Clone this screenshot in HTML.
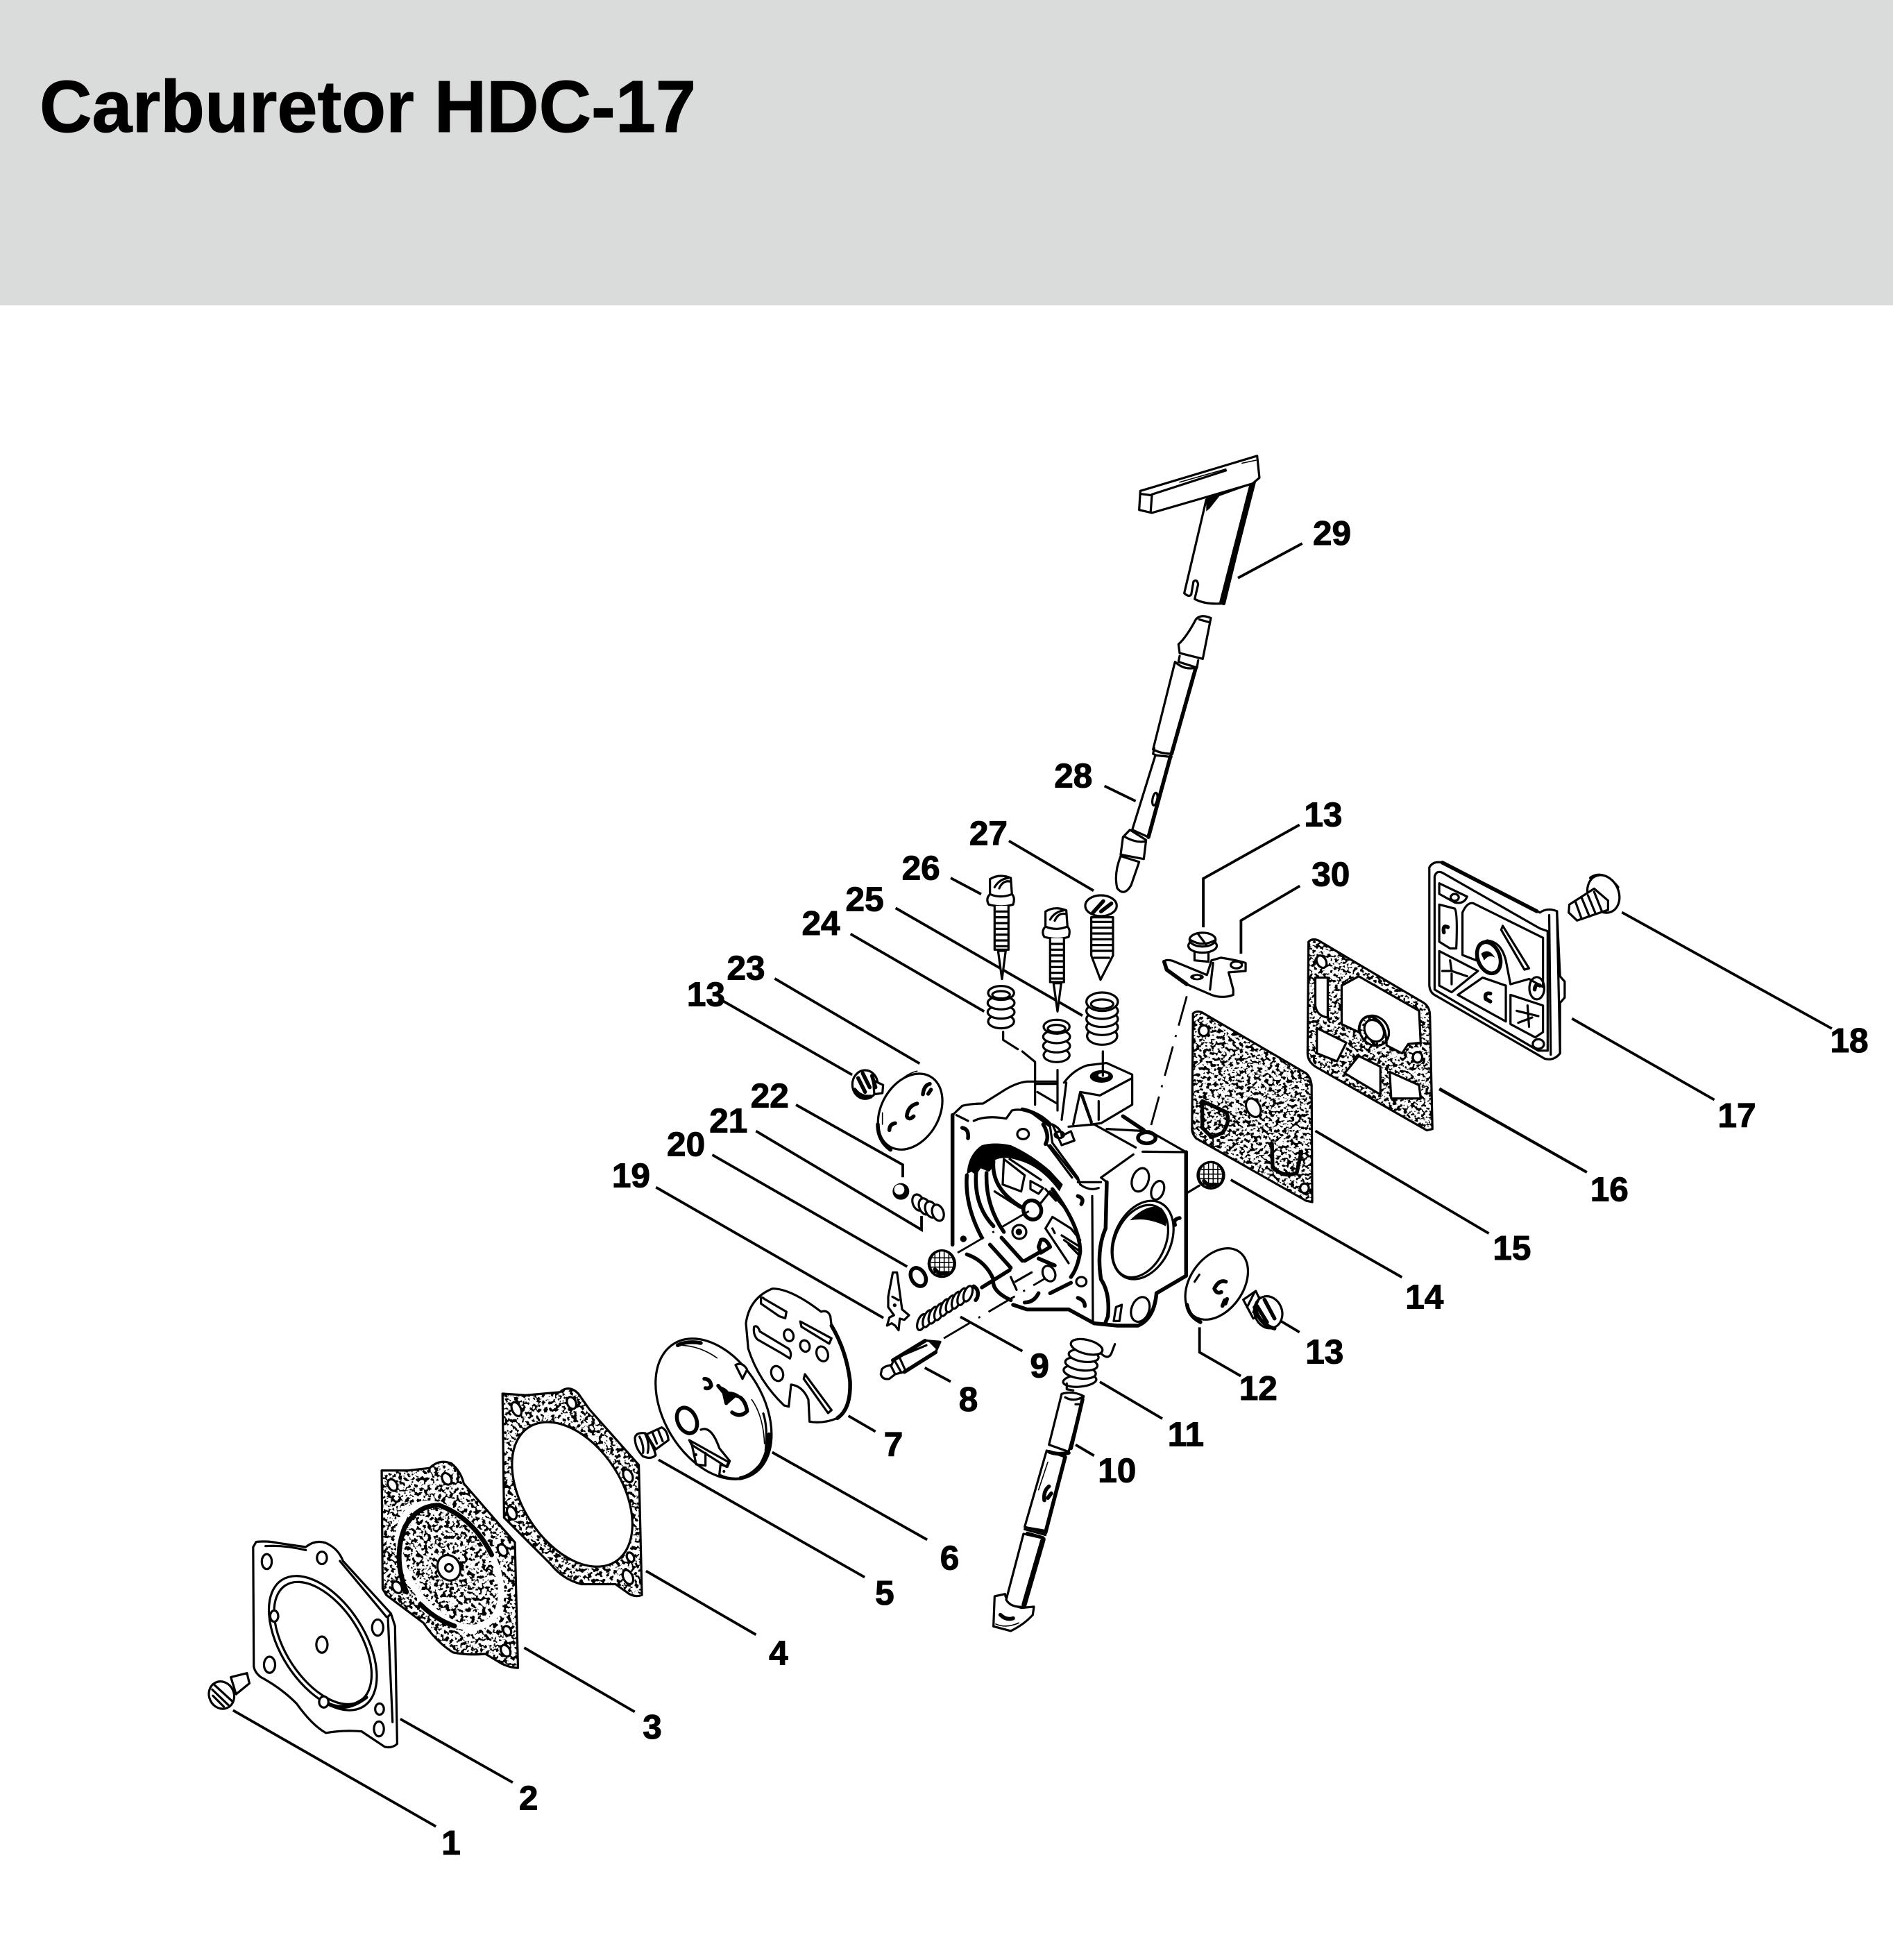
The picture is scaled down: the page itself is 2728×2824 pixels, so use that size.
<!DOCTYPE html>
<html><head><meta charset="utf-8"><title>Carburetor HDC-17</title>
<style>
html,body{margin:0;padding:0;background:#fff}
svg{display:block}
path,ellipse,line,polyline,rect,circle,polygon{vector-effect:non-scaling-stroke}
.s{fill:none;stroke:#000;stroke-width:3.2;stroke-linecap:round;stroke-linejoin:round}
.w{fill:#fff;stroke:#000;stroke-width:3.2;stroke-linejoin:round;stroke-linecap:round}
.t{fill:none;stroke:#000;stroke-width:1.6;stroke-linecap:round;stroke-linejoin:round}
.k{fill:none;stroke:#000;stroke-width:5.5;stroke-linecap:round;stroke-linejoin:round}
.b{fill:#000;stroke:none}
.l{fill:none;stroke:#000;stroke-width:3.8;stroke-linecap:butt;stroke-linejoin:miter}
.d{fill:none;stroke:#000;stroke-width:2.8;stroke-dasharray:44 14 3 14}
.n{font:bold 27.5px "Liberation Sans",sans-serif;text-anchor:middle;fill:#000;stroke:#000;stroke-width:.6}
</style></head><body>
<svg xmlns="http://www.w3.org/2000/svg" width="2728" height="2824" viewBox="0 0 2728 2824">
<defs>
<filter id="sp" x="0" y="0" width="1" height="1" color-interpolation-filters="sRGB">
<feTurbulence type="fractalNoise" baseFrequency=".085" numOctaves="2" seed="7" result="n"/>
<feColorMatrix in="n" type="matrix" values="0 0 0 0 0 0 0 0 0 0 0 0 0 0 0 16 0 0 0 -8.2" result="m"/>
<feComposite in="m" in2="SourceAlpha" operator="in"/>
</filter>
<g id="ndl">
<path class="w" d="M680,200Q720,175 770,195L775,265Q790,280 780,310Q730,325 675,310Q660,285 680,265Z"/>
<path class="s" d="M680,265Q725,285 775,265M700,235Q720,200 760,195M720,240Q735,205 765,210"/>
<path class="w" d="M700,315L700,505L760,505L760,315"/>
<path class="s" d="M703,340H757M703,365H757M703,390H757M703,415H757M703,440H757M703,465H757M703,490H757"/>
<path class="w" d="M715,510L732,632L748,510Z"/>
</g>
<g id="spr">
<ellipse class="w" cx="728" cy="815" rx="56" ry="30"/>
<ellipse class="w" cx="728" cy="775" rx="58" ry="28"/>
<ellipse class="w" cx="728" cy="735" rx="58" ry="28"/>
<ellipse class="w" cx="728" cy="692" rx="56" ry="30"/>
<ellipse class="s" cx="728" cy="700" rx="38" ry="16"/>
</g>
<g id="mesh">
<circle r="62" class="b"/>
<ellipse rx="48" ry="52" fill="#fff"/>
<path class="t" d="M-40,-25H40M-45,-5H45M-45,15H45M-35,35H35M-30,-40V40M-10,-50V50M10,-50V50M30,-40V40"/>
<path class="k" d="M-30,25L-10,45L20,40"/>
</g>
</defs>

<rect x="0" y="0" width="2728" height="440" fill="#dadcdb"/>
<text x="57" y="190" font-family="Liberation Sans, sans-serif" font-weight="bold" font-size="106" textLength="946" lengthAdjust="spacingAndGlyphs" fill="#000" stroke="#000" stroke-width="1">Carburetor HDC-17</text>

<!-- Zoom 2: parts 1-4 -->
<g transform="translate(280,1950) scale(.4464)">
<path class="l" d="M125,1152L780,1527M665,1180L1028,1385M1065,950L1422,1157"/>
<!-- screw 1 -->
<path class="w" d="M118,1045L170,1032L178,1065L135,1100Z"/>
<ellipse class="w" cx="88" cy="1103" rx="40" ry="45" transform="rotate(-25 88 1103)"/>
<path class="s" d="M58,1085L110,1135M60,1105L95,1140M65,1070L125,1125"/>
<!-- cover 2 -->
<path class="w" d="M190,625L200,608Q240,605 270,612L360,625Q390,600 425,612Q465,630 480,670L635,840L648,880L655,1260Q640,1275 615,1270L540,1220Q480,1215 425,1225Q380,1200 330,1130Q280,1080 215,1045Q195,1030 192,1010Z"/>
<path class="s" d="M635,840L625,850L640,1190M230,622Q290,618 360,635M470,670L620,850"/>
<ellipse class="s" cx="415" cy="935" rx="243" ry="135" transform="rotate(57 415 935)"/>
<ellipse class="s" cx="415" cy="935" rx="222" ry="120" transform="rotate(57 415 935)"/>
<path class="k" d="M430,1130Q490,1160 555,1110"/>
<ellipse class="w" cx="258" cy="848" rx="13" ry="18"/><ellipse class="w" cx="418" cy="1125" rx="15" ry="18"/>
<ellipse class="s" cx="234" cy="672" rx="16" ry="24"/><ellipse class="s" cx="412" cy="660" rx="16" ry="20"/>
<ellipse class="s" cx="592" cy="885" rx="18" ry="26"/><ellipse class="s" cx="243" cy="1005" rx="18" ry="26"/>
<ellipse class="s" cx="412" cy="940" rx="18" ry="26"/><ellipse class="s" cx="598" cy="1148" rx="14" ry="18"/><ellipse class="s" cx="596" cy="1212" rx="16" ry="24"/>
<!-- gasket 3 -->
<path fill="#fff" d="M605,378L690,378L760,370Q790,340 830,355Q860,380 870,420L1035,610L1045,1015Q1020,1015 990,1000L940,970Q880,975 835,965Q780,930 740,870L620,780L608,760Z"/>
<path filter="url(#sp)" d="M605,378L690,378L760,370Q790,340 830,355Q860,380 870,420L1035,610L1045,1015Q1020,1015 990,1000L940,970Q880,975 835,965Q780,930 740,870L620,780L608,760Z"/>
<path class="s" d="M605,378L690,378L760,370Q790,340 830,355Q860,380 870,420L1035,610L1045,1015Q1020,1015 990,1000L940,970Q880,975 835,965Q780,930 740,870L620,780L608,760Z"/>
<ellipse cx="825" cy="685" rx="222" ry="135" transform="rotate(57 825 685)" fill="none" stroke="#fff" stroke-width="9"/>
<path fill="none" stroke="#000" stroke-width="7" stroke-linecap="round" d="M685,770Q640,660 680,560Q720,490 790,490Q900,530 960,650M730,810Q780,860 840,880"/>
<ellipse cx="640" cy="425" rx="14" ry="20" class="w" transform="rotate(-30 640 425)"/><ellipse cx="815" cy="405" rx="14" ry="20" class="w" transform="rotate(-30 815 405)"/><ellipse cx="995" cy="635" rx="14" ry="20" class="w" transform="rotate(-30 995 635)"/><ellipse cx="655" cy="755" rx="14" ry="20" class="w" transform="rotate(-30 655 755)"/><ellipse cx="1005" cy="960" rx="14" ry="20" class="w" transform="rotate(-30 1005 960)"/><ellipse cx="1010" cy="895" rx="12" ry="16" class="w" transform="rotate(-30 1010 895)"/>
<ellipse cx="822" cy="692" rx="36" ry="42" class="w" transform="rotate(-25 822 692)"/><circle cx="822" cy="692" r="12" class="s"/>
<!-- gasket 4 -->
<path fill="#fff" d="M995,130L1070,135L1180,125Q1210,100 1240,130L1275,180L1435,360L1445,780Q1420,790 1395,770L1360,745L1250,745Q1190,730 1150,680L1000,530Z"/>
<path filter="url(#sp)" d="M995,130L1070,135L1180,125Q1210,100 1240,130L1275,180L1435,360L1445,780Q1420,790 1395,770L1360,745L1250,745Q1190,730 1150,680L1000,530Z"/>
<path class="s" d="M995,130L1070,135L1180,125Q1210,100 1240,130L1275,180L1435,360L1445,780Q1420,790 1395,770L1360,745L1250,745Q1190,730 1150,680L1000,530Z"/>
<ellipse class="w" cx="1220" cy="455" rx="258" ry="160" transform="rotate(57 1220 455)"/>
<ellipse cx="1040" cy="180" rx="14" ry="24" class="w" transform="rotate(-25 1040 180)"/><ellipse cx="1218" cy="160" rx="14" ry="20" class="w" transform="rotate(-25 1218 160)"/><ellipse cx="1400" cy="395" rx="14" ry="22" class="w" transform="rotate(-25 1400 395)"/><ellipse cx="1025" cy="515" rx="14" ry="22" class="w" transform="rotate(-25 1025 515)"/><ellipse cx="1400" cy="722" rx="15" ry="24" class="w" transform="rotate(-25 1400 722)"/><ellipse cx="1408" cy="658" rx="11" ry="16" class="w" transform="rotate(-25 1408 658)"/>
</g>

<!-- Zoom 6: 5,6,7 -->
<g transform="translate(900,1830) scale(.3333)">
<path class="l" d="M968,630L1085,698"/>
<path class="w" d="M95,710L160,680Q185,690 190,735L135,775Z"/>
<path class="w" d="M45,725Q50,700 90,705Q125,760 135,800Q115,820 80,805Q45,770 45,725Z"/>
<path class="s" d="M90,710Q110,750 100,790M120,700L140,750M145,690L165,740M65,720Q85,760 80,790"/>
<!-- 7 -->
<path class="w" d="M525,230Q540,120 640,80Q720,80 850,180Q880,170 890,200L895,240Q960,350 975,480Q980,600 920,640Q860,665 800,655L795,560Q770,500 720,495L710,590L690,585Q580,480 535,340Z"/>
<path class="k" d="M895,240Q960,350 975,480Q980,600 920,640"/>
<path class="s" d="M590,120Q595,115 605,125L700,180L695,208L670,200L590,145ZM760,222L895,295L885,318L765,245ZM560,245Q575,235 585,265L710,340Q725,360 715,382L680,360L575,300Q555,280 560,245ZM780,450L895,605L880,618L775,470Z"/>
<ellipse class="s" cx="710" cy="282" rx="20" ry="26" transform="rotate(-20 710 282)"/><ellipse class="s" cx="780" cy="328" rx="20" ry="25" transform="rotate(-20 780 328)"/><ellipse class="s" cx="855" cy="362" rx="24" ry="33" transform="rotate(-20 855 362)"/><ellipse class="s" cx="660" cy="447" rx="25" ry="33" transform="rotate(-20 660 447)"/>
<!-- 6 -->
<ellipse class="w" cx="385" cy="600" rx="330" ry="215" transform="rotate(59 385 600)"/>
<path class="k" d="M230,325Q270,305 330,315M625,710Q625,780 590,840M500,900Q550,890 590,840"/>
<path class="t" d="M250,325Q330,330 400,380M550,560Q600,630 605,750"/>
<path class="w" d="M480,410Q510,395 530,430L510,470Q490,430 480,410Z"/>
<path class="s" d="M600,620Q620,680 610,780"/>
<path class="k" d="M345,470Q370,470 375,500Q365,515 350,510M405,500L430,530L440,575"/>
<path class="b" d="M410,500Q440,510 450,525Q490,525 515,560L480,550L445,580L430,535Z"/>
<path class="k" d="M465,615Q500,640 530,610Q525,570 500,550"/>
<ellipse class="k" cx="270" cy="650" rx="40" ry="58" transform="rotate(-25 270 650)"/>
<path class="w" d="M330,690Q375,670 410,770L455,825L445,850L415,840L410,885Q450,905 500,900"/>
<path class="s" d="M280,735L450,830L440,850L290,755ZM290,750L310,840L350,845L350,790"/>
<circle class="b" cx="308" cy="798" r="7"/><circle class="b" cx="430" cy="870" r="6"/>
</g>

<!-- Zoom 1: body -->
<g transform="translate(1300,1450) scale(.3333)">
<path class="k" d="M218,470L218,1030"/>
<path class="s" d="M218,470L260,430Q300,420 350,420L430,370Q490,330 540,325L670,325"/>
<path class="s" d="M310,495Q360,470 450,485L475,450Q510,440 560,460L610,490"/>
<path class="s" d="M235,470L285,495M560,460L640,520L650,590L760,740L770,770Q810,800 850,785"/>
<path class="k" d="M520,445Q590,460 640,510M610,510Q640,560 620,595"/>
<path class="s" d="M640,600L760,750M630,600L735,740"/>
<path class="b" d="M280,725Q285,640 345,600Q400,585 470,600Q560,640 640,710L695,770L680,800Q600,690 500,665Q440,645 400,665Q395,700 375,715L340,700L320,730L300,715Z"/>
<path class="k" d="M280,730Q270,860 345,1000M320,720Q310,860 395,950M365,720Q360,860 440,975M395,670Q385,790 520,870"/>
<path class="s" d="M440,660L530,730L515,800L435,770ZM465,660L600,750M400,800L510,870M555,755L610,785L590,810L555,790Z"/>
<path class="k" d="M650,790Q770,950 770,1060Q760,1130 730,1170"/>
<path class="s" d="M620,790L665,840M600,850L640,800L710,880"/>
<ellipse class="k" cx="563" cy="880" rx="38" ry="42" transform="rotate(-25 563 880)"/>
<circle class="s" cx="507" cy="975" r="30"/><circle class="b" cx="505" cy="975" r="14"/>
<path class="s" d="M620,960L650,910L730,960L770,1010M620,960L720,1110M660,980L650,960M690,990L770,1040M700,1010L770,1060M720,1030L770,1080"/>
<path class="k" d="M600,1010Q620,1000 640,1040L600,1065L590,1040ZM590,1090L660,1120"/>
<ellipse class="s" cx="635" cy="1155" rx="26" ry="35" transform="rotate(-25 635 1155)"/>
<path class="k" d="M430,1000L520,1100M380,1030L470,1130M530,1100L600,1060M280,1072Q360,1100 395,1180Q385,1230 470,1270"/>
<path class="k" d="M345,1215L465,1140"/>
<path class="s" d="M470,1170L495,1225M490,1190L560,1150"/>
<path class="k" d="M480,1290L540,1310L720,1310L830,1370"/>
<path class="k" d="M590,1240Q570,1280 530,1280M640,1240L730,1195"/>
<path class="d" d="M240,1065L575,870M180,1435L620,1175"/>
<circle class="b" cx="265" cy="1005" r="14"/><path class="k" d="M260,525Q290,530 285,570M760,820Q790,830 775,855M760,1260Q790,1270 790,1295"/>
<ellipse class="s" cx="523" cy="552" rx="25" ry="22"/>
<ellipse class="w" cx="775" cy="1190" rx="22" ry="20"/>
<!-- right face -->
<path class="s" d="M860,740L1000,640M860,740L885,760M1040,628L1228,630"/>
<path class="k" d="M1228,630L1228,1165L1100,1240"/>
<path class="k" d="M1100,1240Q1090,1350 1020,1380L930,1380L830,1370"/>
<path class="s" d="M720,520L830,510L1010,610M885,530L1070,540L1228,630M760,760L860,760"/>
<path class="s" d="M822,820L825,1365"/>
<path class="k" d="M885,760L880,960Q840,1050 860,1180Q900,1240 890,1340L880,1365"/>
<ellipse class="w" cx="1030" cy="1015" rx="108" ry="165" transform="rotate(25 1030 1015)"/>
<ellipse class="s" cx="1040" cy="1010" rx="122" ry="178" transform="rotate(25 1040 1010)"/>
<path class="b" d="M985,925Q1060,850 1120,870Q1150,900 1140,950Q1060,910 985,925Z"/>
<ellipse class="s" cx="1030" cy="750" rx="35" ry="52" transform="rotate(20 1030 750)"/>
<ellipse class="s" cx="1105" cy="795" rx="26" ry="42" transform="rotate(20 1105 795)"/>
<ellipse class="s" cx="1030" cy="1310" rx="38" ry="55" transform="rotate(20 1030 1310)"/>
<path class="s" d="M925,1300L950,1290L940,1360L915,1360Z"/>
<path class="k" d="M1200,915Q1170,920 1180,945"/>
<ellipse class="k" cx="1058" cy="568" rx="38" ry="24"/>
<!-- top block -->
<path class="s" d="M700,330Q740,275 800,255L880,245M885,245L995,295L995,425L860,505L820,510L770,370L740,510M770,370L855,385L995,310M780,385L820,500M850,410V490M710,330L690,490"/>
<path class="k" d="M955,475L1045,535"/>
<ellipse class="b" cx="862" cy="303" rx="50" ry="27"/><ellipse cx="870" cy="298" rx="22" ry="10" fill="#fff"/>
<path class="s" d="M868,195L868,300"/>
<path class="s" d="M437,110L437,145L500,185M520,195L575,240L575,425M575,335L672,335M672,275L672,450M585,370L670,420"/>
<path class="s" d="M650,510Q690,530 690,560L730,540L745,580L690,600Z"/>
<ellipse class="s" cx="680" cy="555" rx="20" ry="14"/>
<!-- plate 12 -->
<ellipse class="w" cx="1360" cy="1200" rx="170" ry="115" transform="rotate(-55 1360 1200)"/>
<path class="k" d="M1232,1290Q1240,1340 1290,1365"/>
<path class="k" d="M1400,1190Q1370,1180 1350,1220Q1360,1245 1380,1235M1395,1270L1385,1295M1405,1265L1398,1285"/>
<path class="s" d="M1285,1160L1265,1190"/>
<use href="#mesh" transform="translate(1335,730)"/>
<path class="s" d="M1235,805L1285,775"/>
</g>

<!-- Zoom 7: 23, 22, 21, 20, screen, 19, spring 9 -->
<g transform="translate(1240,1540) scale(.3333)">
<ellipse class="w" cx="215" cy="185" rx="175" ry="125" transform="rotate(-60 215 185)"/>
<path class="k" d="M75,240Q75,310 130,350"/>
<path class="t" d="M95,190L95,240M190,35Q220,15 245,10"/>
<path class="k" d="M245,150Q205,160 200,205Q210,225 230,205M300,65Q275,70 270,110M305,90L293,108M150,235Q125,240 125,265"/>
<circle class="b" cx="175" cy="530" r="36"/><circle cx="168" cy="522" r="22" fill="#fff"/>
<ellipse class="w" cx="250" cy="578" rx="24" ry="36" transform="rotate(-20 250 578)"/>
<ellipse class="w" cx="278" cy="595" rx="24" ry="36" transform="rotate(-20 278 595)"/>
<ellipse class="w" cx="305" cy="608" rx="24" ry="36" transform="rotate(-20 305 608)"/>
<ellipse class="w" cx="335" cy="622" rx="24" ry="36" transform="rotate(-20 335 622)"/>
<ellipse class="k" cx="250" cy="900" rx="30" ry="42" transform="rotate(-30 250 900)"/>
<use href="#mesh" transform="translate(352,842)"/>
<path class="w" d="M140,880L158,880L180,1040L210,1065L190,1085L170,1080L165,1130L150,1110L135,1100L115,1110L125,1075L145,1065L120,1030L120,985Z"/>
<circle class="b" cx="148" cy="1022" r="8"/><path class="s" d="M138,985L165,1000"/>
<ellipse class="w" cx="265" cy="1095" rx="17" ry="36" transform="rotate(20 265 1095)"/>
<ellipse class="w" cx="290" cy="1080" rx="17" ry="38" transform="rotate(20 290 1080)"/>
<ellipse class="w" cx="315" cy="1065" rx="17" ry="38" transform="rotate(20 315 1065)"/>
<ellipse class="w" cx="340" cy="1050" rx="17" ry="38" transform="rotate(20 340 1050)"/>
<ellipse class="w" cx="365" cy="1032" rx="17" ry="38" transform="rotate(20 365 1032)"/>
<ellipse class="w" cx="390" cy="1016" rx="17" ry="38" transform="rotate(20 390 1016)"/>
<ellipse class="w" cx="415" cy="1000" rx="17" ry="38" transform="rotate(20 415 1000)"/>
<ellipse class="w" cx="440" cy="985" rx="17" ry="38" transform="rotate(20 440 985)"/>
<ellipse class="w" cx="465" cy="972" rx="17" ry="35" transform="rotate(20 465 972)"/>
<path class="k" d="M490,940Q515,955 505,990L498,1000"/>
</g>

<!-- Zoom 9: needle 8, leaders -->
<g transform="translate(1240,1780) scale(.3333)">
<path class="l" d="M432,352L700,500M278,572L390,632"/>
<path class="w" d="M92,580Q100,565 135,560L145,535L285,455L345,460L325,505L190,590L150,600L125,620Q95,625 88,600Z"/>
<path class="b" d="M285,450L345,458L330,495Z"/>
<path class="k" d="M190,590L325,505M140,540L280,455"/>
<path class="s" d="M130,560L150,600M150,545L175,590M170,530L195,585M165,525L285,475"/>
</g>

<!-- Zoom 8: 10,11 -->
<g transform="translate(1400,1900) scale(.3333)">
<path class="l" d="M450,545L530,592M555,273L825,432"/>
<ellipse class="w" cx="468" cy="268" rx="72" ry="26" transform="rotate(-5 468 268)"/>
<ellipse class="w" cx="468" cy="230" rx="70" ry="28" transform="rotate(8 468 230)"/>
<ellipse class="w" cx="475" cy="195" rx="70" ry="28" transform="rotate(8 475 195)"/>
<ellipse class="w" cx="485" cy="160" rx="65" ry="26" transform="rotate(8 485 160)"/>
<ellipse class="w" cx="498" cy="122" rx="70" ry="30" transform="rotate(14 498 122)"/>
<path class="s" d="M560,150Q590,180 605,150L620,110M412,280L412,305M412,305L440,310"/>
<path class="w" d="M390,325L335,545L420,575L485,335Q440,310 390,325Z"/>
<path class="s" d="M405,340Q440,360 478,340M450,370H478"/>
<path class="k" d="M480,350L430,560"/>
<path class="w" d="M325,570L405,598L320,925L230,900Z"/>
<path class="k" d="M405,598L320,925M335,575Q370,590 420,580"/>
<path class="t" d="M330,620L290,740"/>
<path class="k" d="M335,725Q310,745 315,785M345,755L330,775"/>
<path class="s" d="M230,910L320,935M240,925L310,945M250,905L310,915"/>
<path class="w" d="M100,1200L145,1190Q150,1230 215,1250L270,1245L265,1280Q230,1320 170,1350L95,1330Z"/>
<path class="w" d="M225,930L150,1215Q170,1250 225,1245L315,950Z"/>
<path class="k" d="M312,955L228,1245M305,960L225,1235"/>
<path class="k" d="M125,1280Q150,1305 180,1295"/>
<path class="t" d="M105,1320Q150,1340 205,1315"/>
</g>

<!-- Zoom 5: 28,29 -->
<g transform="translate(1560,640) scale(.3333,.4209)">
<path class="l" d="M672,458L950,340M95,1170L230,1222"/>
<path class="w" d="M440,510L535,190L745,130L610,545Q530,550 485,530L500,480Q495,460 480,470L470,515Q460,525 440,510Z"/>
<path class="k" d="M735,140L610,545M730,138L600,540"/>
<path class="w" d="M245,225L250,160L755,40L765,115L735,135L540,180L300,235Z"/>
<path class="s" d="M250,170L300,175L295,228M300,172L620,90"/>
<path class="t" d="M420,130L620,85M690,65L750,55"/>
<path class="b" d="M535,185L725,135L600,170L550,220L535,230Z"/>
<path class="w" d="M490,600Q510,580 555,595L520,735L420,715L415,685Q450,660 490,600Z"/>
<path class="s" d="M505,600L550,610M420,725L415,745L495,765L500,740"/>
<path class="w" d="M400,745L305,1045Q340,1060 385,1060L490,765Q440,775 400,745Z"/>
<path class="k" d="M490,765L385,1060"/>
<path class="s" d="M310,1040L305,1060Q340,1075 385,1070"/>
<path class="w" d="M315,1065L215,1320L285,1345L380,1070Z"/>
<path class="k" d="M380,1070L285,1345"/>
<ellipse class="s" cx="313" cy="1215" rx="10" ry="22" transform="rotate(15 313 1215)"/>
<path class="w" d="M205,1320L275,1355L265,1420L165,1405L175,1345Z"/>
<path class="s" d="M185,1345Q230,1365 270,1360"/>
<path class="w" d="M165,1410Q135,1470 150,1520Q180,1550 210,1510L245,1430Z"/>
</g>

<!-- Zoom 4: 24-27, 13, spring top -->
<g transform="translate(1200,1200) scale(.3333)">
<path class="l" d="M272,325L1080,790M77,437L655,772M510,195L642,265M762,35L1128,250"/>
<use href="#ndl"/>
<use href="#ndl" transform="translate(240,140)"/>
<ellipse class="w" cx="1160" cy="315" rx="68" ry="45"/>
<path class="k" d="M1125,345L1170,295M1160,340L1205,305"/>
<path class="w" d="M1118,365L1118,530L1158,635L1212,530L1212,365Z"/>
<path class="s" d="M1120,385H1210M1120,410H1210M1120,435H1210M1120,460H1210M1120,485H1210M1122,510H1208M1130,540H1195"/>
<use href="#spr"/>
<use href="#spr" transform="translate(240,146)"/>
<ellipse class="w" cx="1165" cy="878" rx="65" ry="38"/><ellipse class="w" cx="1165" cy="840" rx="68" ry="34"/><ellipse class="w" cx="1165" cy="805" rx="68" ry="34"/><ellipse class="w" cx="1165" cy="770" rx="68" ry="34"/><ellipse class="w" cx="1165" cy="730" rx="68" ry="40"/><ellipse class="s" cx="1165" cy="740" rx="48" ry="20"/>
<!-- screw 13 left -->
<ellipse class="w" cx="140" cy="1088" rx="55" ry="62"/>
<path class="w" d="M175,1070L218,1090L215,1125L180,1130Z"/>
<path class="k" d="M95,1110Q120,1145 165,1140M130,1040L160,1100M110,1060L140,1120M170,1050L185,1100"/>
</g>

<!-- Zoom 3: 13/30 bracket, 15,16,17,18 -->
<g transform="translate(1650,1200) scale(.4464,.3827)">
<path class="l" d="M500,200L310,330L310,455M550,1122L1110,1508M950,965L1422,1275"/>
<path class="d" d="M135,615L20,1100"/>
<!-- screw & bracket -->
<path class="w" d="M160,440L205,440L205,485L160,480Z"/>
<ellipse class="w" cx="186" cy="425" rx="46" ry="26"/>
<ellipse class="w" cx="186" cy="402" rx="42" ry="26"/>
<path class="s" d="M150,405Q185,430 225,405M170,378L200,425"/>
<path class="w" d="M62,485Q65,475 90,482L200,535L215,480L245,470Q300,480 325,490L325,520L270,525L285,590L285,610Q250,625 215,610L135,570L70,515Z"/>
<path class="k" d="M62,485L70,515L135,570"/>
<ellipse class="b" cx="168" cy="543" rx="22" ry="12"/><ellipse cx="168" cy="543" rx="10" ry="5" fill="#fff"/>
<ellipse class="s" cx="295" cy="497" rx="18" ry="13"/>
<path class="s" d="M220,490L210,590"/>
<!-- gasket 15 -->
<path fill="#fff" d="M155,680Q170,665 190,680L520,905Q535,920 538,950L540,1390L520,1385L165,1150Q150,1130 152,1110Z"/>
<path filter="url(#sp)" d="M155,680Q170,665 190,680L520,905Q535,920 538,950L540,1390L520,1385L165,1150Q150,1130 152,1110Z"/>
<path class="s" d="M155,680Q170,665 190,680L520,905Q535,920 538,950L540,1390L520,1385L165,1150Q150,1130 152,1110Z"/>
<ellipse class="w" cx="350" cy="1035" rx="22" ry="36" transform="rotate(-20 350 1035)"/>
<ellipse class="w" cx="190" cy="745" rx="16" ry="20"/><ellipse class="w" cx="515" cy="1338" rx="14" ry="18"/>
<path class="k" d="M185,1010L260,1050Q280,1080 250,1130L215,1145L185,1110Z"/>
<path class="k" d="M410,1170L412,1260Q450,1300 490,1280L505,1200"/>
<!-- gasket 16 -->
<path fill="#fff" d="M528,410Q540,395 560,405L900,640Q920,655 920,690L928,1115L910,1120L550,880Q525,860 525,830Z"/>
<path filter="url(#sp)" d="M528,410Q540,395 560,405L900,640Q920,655 920,690L928,1115L910,1120L550,880Q525,860 525,830Z"/>
<path class="s" d="M528,410Q540,395 560,405L900,640Q920,655 920,690L928,1115L910,1120L550,880Q525,860 525,830Z"/>
<path class="w" d="M550,545L590,545L590,695Q555,690 550,650Z"/>
<path class="w" d="M635,575L690,540L885,670L890,790L850,795L830,830L780,800Q780,700 720,690Q690,700 690,750L635,720Z"/>
<ellipse class="w" cx="740" cy="745" rx="30" ry="42" transform="rotate(-20 740 745)"/>
<ellipse class="s" cx="740" cy="745" rx="46" ry="58" transform="rotate(-20 740 745)"/>
<path class="w" d="M555,735L650,790L620,860L555,830Z"/>
<path class="w" d="M645,905L690,840L760,880L760,985Z"/>
<path class="w" d="M790,900L885,950L890,1000L795,1000Z"/>
<ellipse class="w" cx="570" cy="485" rx="15" ry="24" transform="rotate(-20 570 485)"/><ellipse class="w" cx="880" cy="845" rx="15" ry="20"/>
<!-- cover 17 -->
<path class="w" d="M918,130Q930,105 960,112L1275,300Q1300,280 1330,295L1340,540L1355,560L1355,620L1340,640L1340,830Q1320,860 1290,850L935,610Q920,600 918,575Z"/>
<path class="k" d="M960,112L1265,295"/>
<path class="s" d="M935,165L935,590L1270,820L1300,820L1300,370L1275,360L960,150Q940,140 935,165Z"/>
<path class="s" d="M1305,310L1310,835M1330,295L1340,830"/>
<path class="s" d="M950,190L1040,240Q1030,270 1000,262L950,230Z"/><circle class="s" cx="1000" cy="243" r="13"/>
<path class="s" d="M950,270L1000,285Q1010,300 1005,435L985,435L950,410Z"/>
<path class="k" d="M978,355Q960,345 965,375"/>
<path class="s" d="M1025,300Q1040,260 1060,265L1285,395L1285,580L1240,550L1180,570L1165,480Q1150,410 1105,405Q1070,415 1070,480L1025,460Z"/>
<ellipse class="k" cx="1110" cy="470" rx="36" ry="60" transform="rotate(-15 1110 470)"/>
<path class="b" d="M1085,455Q1110,430 1130,470Q1110,455 1095,480Z"/>
<path class="s" d="M1155,350L1240,510L1225,515L1150,365Z"/>
<path class="s" d="M950,445L1075,520L990,600L950,575Z"/>
<path class="s" d="M985,480L990,520L960,520M990,520L1040,540M990,530L990,570"/>
<path class="s" d="M1010,610L1090,545L1165,575L1165,710Z"/>
<path class="k" d="M1115,605Q1095,600 1100,625L1115,635"/>
<path class="s" d="M1180,610L1285,650L1285,750L1260,770L1180,720Z"/>
<path class="s" d="M1235,650L1240,730M1200,670L1270,690M1205,715L1250,695"/>
<ellipse class="s" cx="1265" cy="585" rx="24" ry="42"/><path class="k" d="M1275,575Q1260,565 1258,590"/>
<ellipse class="w" cx="1270" cy="795" rx="18" ry="18"/>
<!-- screw 18 -->
<path class="k" d="M1440,170Q1480,140 1525,205"/>
<ellipse class="w" cx="1480" cy="230" rx="50" ry="72" transform="rotate(-15 1480 230)"/>
<path class="w" d="M1370,270L1450,210L1495,255L1495,290L1395,330L1368,300Z"/>
<path class="s" d="M1390,260L1410,325M1410,245L1435,315M1430,235L1455,305M1450,222L1475,295"/>
</g>

<!-- overview coordinates: leaders, right-hand screw, numbers -->
<g transform="scale(1.8007)">
<!-- screw 13 right -->
<path class="w" d="M995,1040L1005,1033L1013,1050L1003,1055Z"/>
<ellipse class="w" cx="1015" cy="1050" rx="11" ry="13" transform="rotate(-20 1015 1050)"/>
<path class="k" d="M1004,1046Q1008,1060 1020,1063M1012,1040L1020,1055M1006,1045L1014,1058"/>
<path class="s" d="M998,1046L1004,1034M1003,1050L1008,1038"/>
<path class="l" d="M1040,660L963,703L963,742"/>
<path class="l" d="M1298,730L1466,823"/>
<path class="l" d="M1025,1057L1040,1066"/>
<path class="l" d="M1258,815L1372,880"/>
<path class="l" d="M1152,871L1270,938"/>
<path class="l" d="M985,944L1122,1022"/>
<path class="l" d="M620,783L736,851"/>
<path class="l" d="M577,800L682,860"/>
<path class="l" d="M637,884L722.500,932L722.500,942"/>
<path class="l" d="M605,905L737.500,984L737.500,973"/>
<path class="l" d="M570,924L726,1013.500"/>
<path class="l" d="M525,950L707,1054.500"/>
<path class="l" d="M527,1168L692,1262"/>
<path class="l" d="M618,1162L742,1232"/>
<path class="l" d="M517,1257L605,1308"/>
<path class="l" d="M960,1062L960,1082L993,1101"/>
<g>
<text class="n" x="1066" y="436">29</text>
<text class="n" x="859" y="630">28</text>
<text class="n" x="791" y="676">27</text>
<text class="n" x="737" y="704">26</text>
<text class="n" x="692" y="729">25</text>
<text class="n" x="657" y="748">24</text>
<text class="n" x="597" y="784">23</text>
<text class="n" x="565" y="805">13</text>
<text class="n" x="616" y="886">22</text>
<text class="n" x="583" y="906">21</text>
<text class="n" x="549" y="925">20</text>
<text class="n" x="505" y="950">19</text>
<text class="n" x="1059" y="661">13</text>
<text class="n" x="1065" y="709">30</text>
<text class="n" x="1480" y="842">18</text>
<text class="n" x="1390" y="902">17</text>
<text class="n" x="1288" y="961">16</text>
<text class="n" x="1210" y="1008">15</text>
<text class="n" x="1140" y="1047">14</text>
<text class="n" x="1060" y="1091">13</text>
<text class="n" x="1007" y="1120">12</text>
<text class="n" x="949" y="1157">11</text>
<text class="n" x="894" y="1186">10</text>
<text class="n" x="832" y="1102">9</text>
<text class="n" x="775" y="1129">8</text>
<text class="n" x="715" y="1165">7</text>
<text class="n" x="760" y="1256">6</text>
<text class="n" x="708" y="1284">5</text>
<text class="n" x="623" y="1332">4</text>
<text class="n" x="522" y="1391">3</text>
<text class="n" x="423" y="1448">2</text>
<text class="n" x="361" y="1484">1</text>
</g>
</g>
</svg>
</body></html>
